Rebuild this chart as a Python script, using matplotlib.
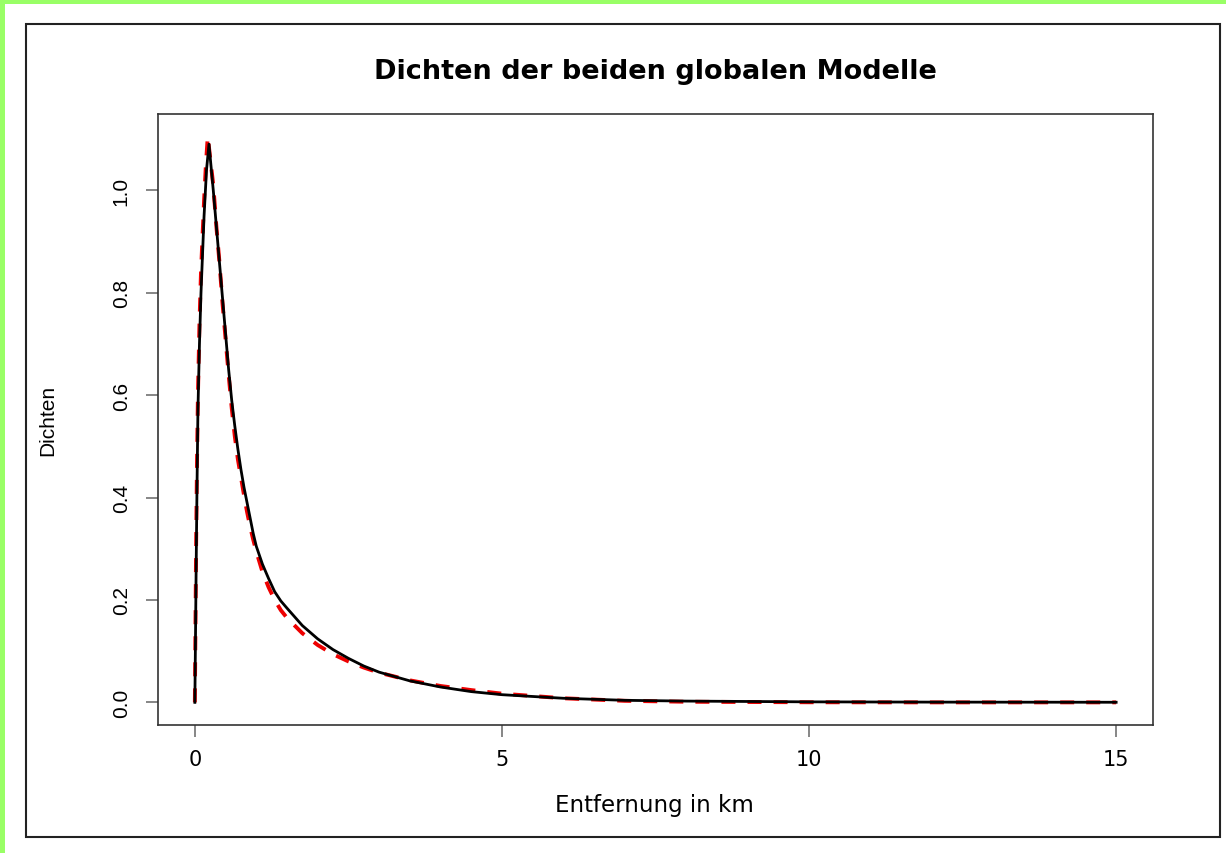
import matplotlib
matplotlib.use("Agg")
import matplotlib.pyplot as plt
from matplotlib.patches import Rectangle

# Werte
x_schwarz = [0, 0.01, 0.02, 0.035, 0.05, 0.075, 0.1, 0.15, 0.19, 0.23, 0.3, 0.35, 0.4, 0.45, 0.5,
             0.55, 0.6, 0.65, 0.7, 0.75, 0.8, 0.85, 0.9, 0.95, 1.0, 1.1, 1.2, 1.3, 1.4, 1.5,
             1.75, 2.0, 2.25, 2.5, 2.75, 3.0, 3.5, 4.0, 4.5, 5.0, 6.0, 7.0, 8.0, 10.0, 12.0, 15.0]
y_schwarz = [0, 0.12, 0.25, 0.42, 0.57, 0.70, 0.80, 0.95, 1.04, 1.09, 1.00, 0.93, 0.86, 0.79, 0.72,
             0.65, 0.59, 0.54, 0.495, 0.455, 0.42, 0.39, 0.36, 0.33, 0.305, 0.27, 0.242, 0.216, 0.198, 0.184,
             0.15, 0.124, 0.103, 0.086, 0.071, 0.059, 0.042, 0.030, 0.021, 0.015, 0.008, 0.004, 0.0025, 0.001, 0.0005, 0.0002]

x_rot = [0, 0.01, 0.02, 0.035, 0.05, 0.075, 0.1, 0.15, 0.18, 0.21, 0.3, 0.35, 0.4, 0.45, 0.5,
         0.55, 0.6, 0.65, 0.7, 0.75, 0.8, 0.85, 0.9, 0.95, 1.0, 1.1, 1.2, 1.3, 1.4, 1.5,
         1.75, 2.0, 2.25, 2.5, 2.75, 3.0, 3.5, 4.0, 4.5, 5.0, 6.0, 7.0, 8.0, 10.0, 12.0, 15.0]
y_rot = [0, 0.15, 0.30, 0.47, 0.60, 0.74, 0.84, 0.98, 1.05, 1.105, 1.01, 0.93, 0.86, 0.78, 0.71,
         0.64, 0.575, 0.52, 0.475, 0.44, 0.405, 0.372, 0.343, 0.318, 0.295, 0.255, 0.225, 0.2, 0.18, 0.165,
         0.135, 0.112, 0.094, 0.08, 0.068, 0.058, 0.043, 0.032, 0.024, 0.017, 0.008, 0.003, 0.0012, 0.0002, 0.0, 0.0]

x_ticks = [0, 5, 10, 15]
y_ticks = [0.0, 0.2, 0.4, 0.6, 0.8, 1.0]
y_ticklabels = ["0.0", "0.2", "0.4", "0.6", "0.8", "1.0"]

W, H = 1226, 854
fig = plt.figure(figsize=(W / 100, H / 100), dpi=100)
fig.patch.set_facecolor("white")

# gruener Rand oben und links
fig.patches.append(Rectangle((0, 1 - 5 / H), 1, 5 / H, transform=fig.transFigure,
                             facecolor="#99ff66", edgecolor="none"))
fig.patches.append(Rectangle((0, 0), 5 / W, 1, transform=fig.transFigure,
                             facecolor="#99ff66", edgecolor="none"))
# schwarzer Rahmen
fig.patches.append(Rectangle((26 / W, 1 - 838 / H), (1220 - 26) / W, (838 - 25) / H,
                             transform=fig.transFigure, facecolor="none",
                             edgecolor="#222222", linewidth=1.5))

ax = fig.add_axes([158 / W, 1 - 726 / H, (1153 - 158) / W, (726 - 115) / H])
ax.plot(x_rot, y_rot, color="#ee0000", linewidth=2.8, linestyle=(0, (3.6, 3.1)), zorder=2)
ax.plot(x_schwarz, y_schwarz, color="black", linewidth=2.0, zorder=3)

ax.set_xlim(-0.6, 15.6)
ax.set_ylim(-0.0442, 1.149)
for s in ax.spines.values():
    s.set_color("#333333")
    s.set_linewidth(1.2)

schrift = ["DejaVu Sans"]
schmal = ["Liberation Sans", "DejaVu Sans"]

ax.set_xticks(x_ticks)
ax.set_xticklabels([str(t) for t in x_ticks], family=schrift, fontsize=15)
ax.set_yticks(y_ticks)
ax.set_yticklabels(y_ticklabels, family=schmal, fontsize=15, rotation=90, va="center")
ax.tick_params(axis="both", direction="out", length=8.6, width=1.1, color="#666666")
ax.tick_params(axis="x", pad=9)
ax.tick_params(axis="y", pad=11)

fig.text(655 / W, 1 - 72 / H, "Dichten der beiden globalen Modelle", family=schrift,
         fontsize=19.5, fontweight="bold", ha="center", va="center")
fig.text(654 / W, 1 - 806 / H, "Entfernung in km", family=schrift, fontsize=16.5,
         ha="center", va="center")
fig.text(48 / W, 1 - 420 / H, "Dichten", family=schmal, fontsize=15, rotation=90,
         ha="center", va="center")

fig.savefig("out.png", dpi=100)
